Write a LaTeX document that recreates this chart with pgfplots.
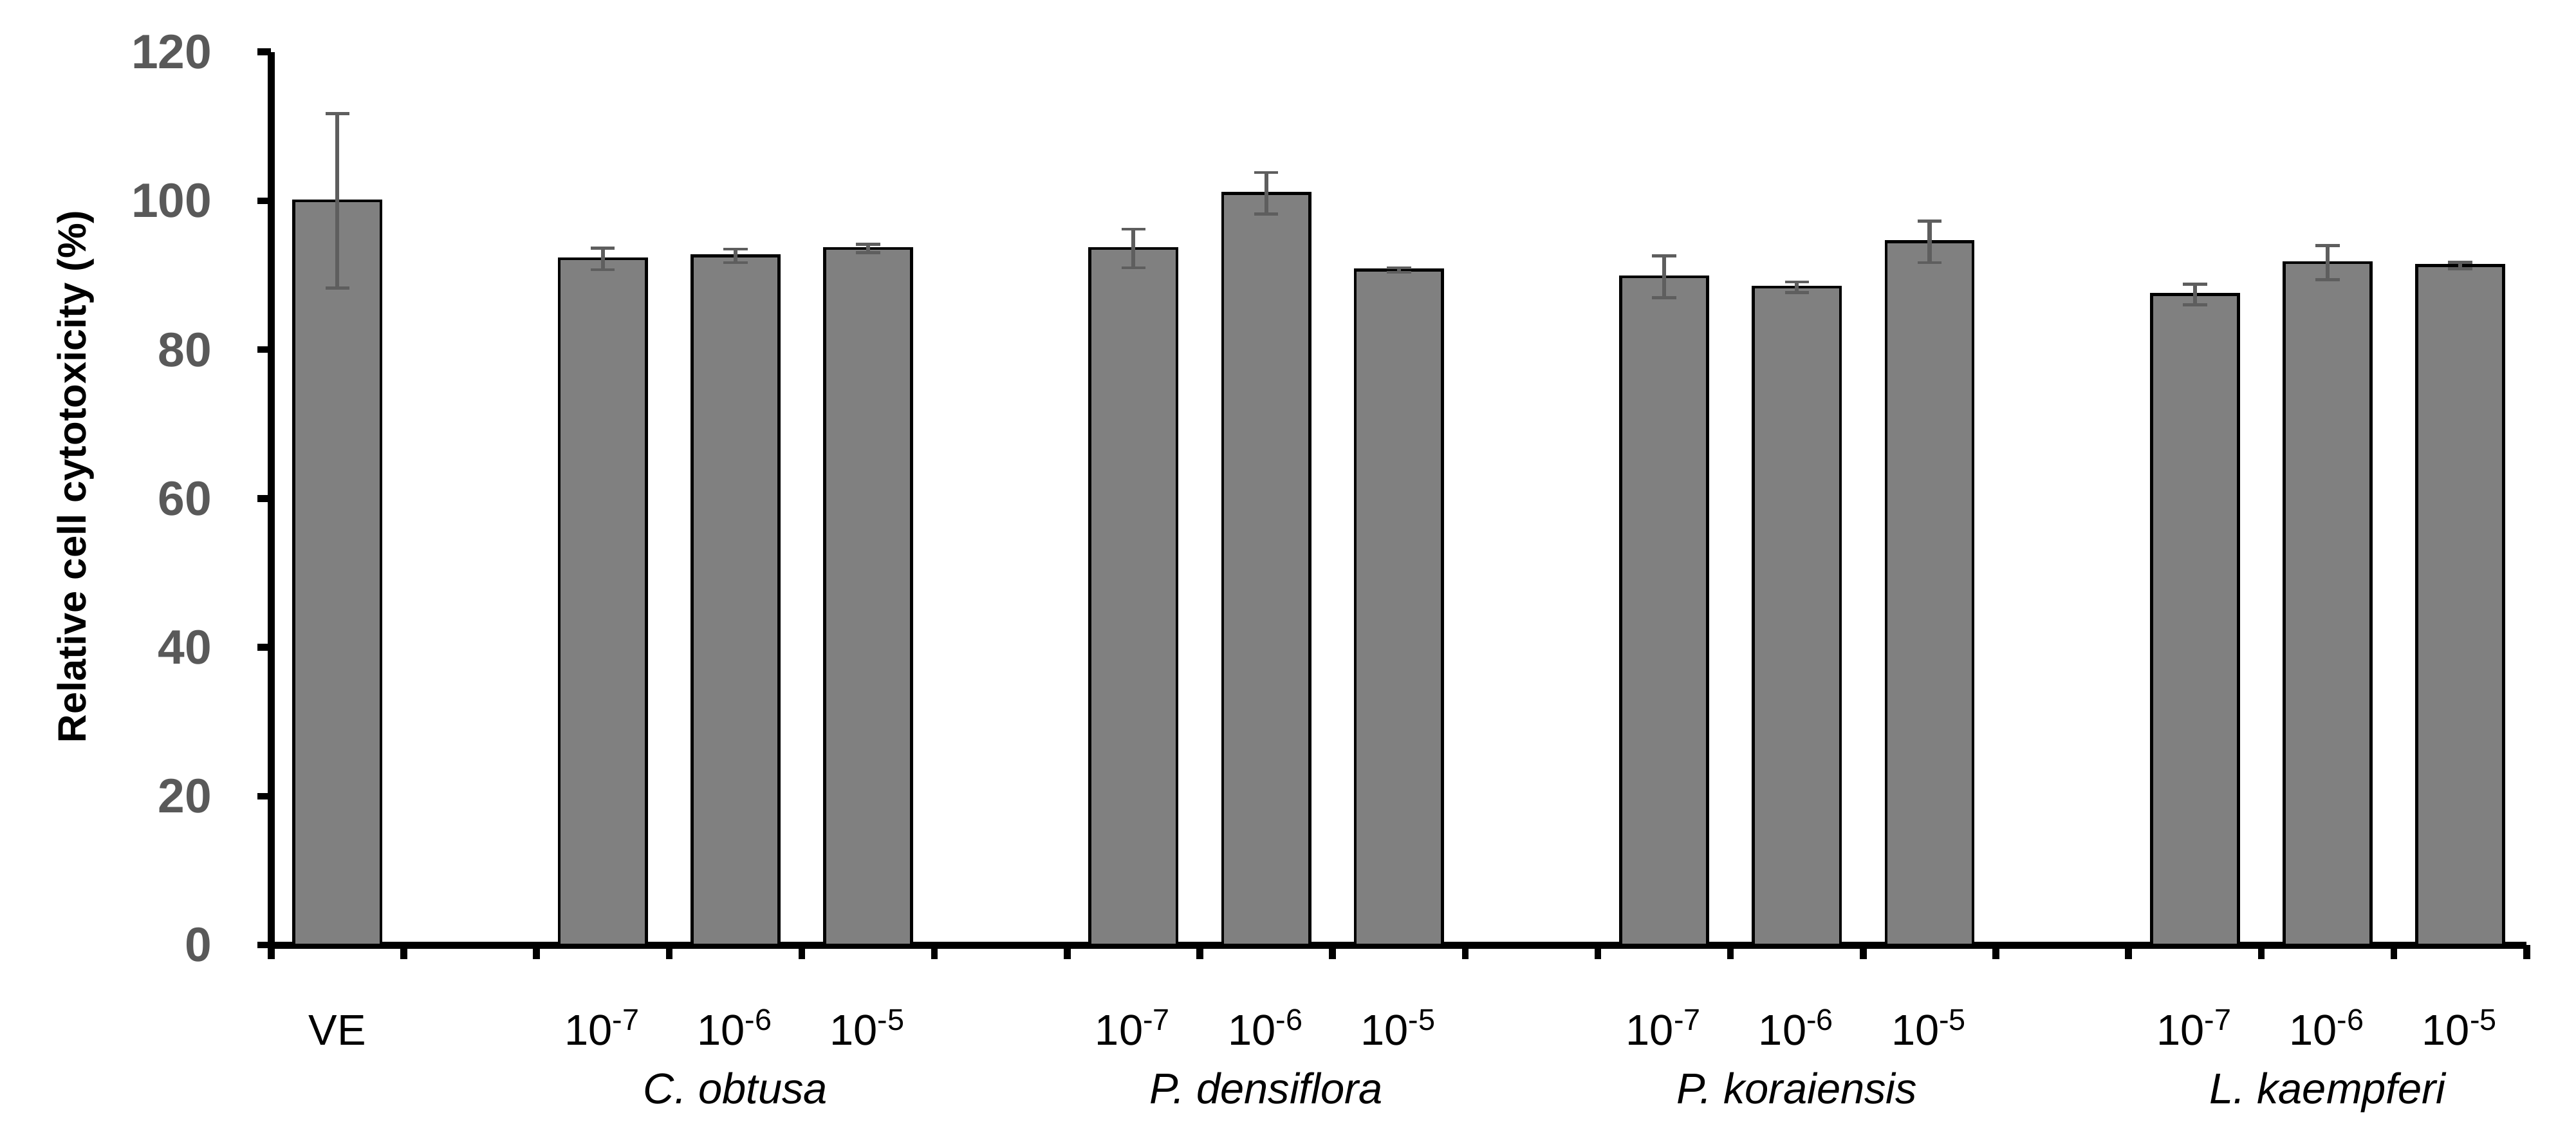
\documentclass[border=0pt]{standalone}
\usepackage{fontspec}
\setmainfont{Liberation Sans}
\usepackage{pgfplots}
\usepackage{pgfplotstable}
\pgfplotsset{compat=1.18}
\definecolor{barfill}{HTML}{808080}
\definecolor{errc}{HTML}{5E5E5E}
\definecolor{ticklab}{HTML}{595959}

\pgfplotstableread{
x y err
0 100.0 11.7
2 92.2 1.45
3 92.6 0.9
4 93.6 0.55
6 93.6 2.6
7 101.0 2.8
8 90.7 0.3
10 89.8 2.8
11 88.4 0.7
12 94.5 2.8
14 87.4 1.4
15 91.7 2.3
16 91.3 0.45
}\datatable

\begin{document}
\begin{tikzpicture}
\begin{axis}[
  scale only axis,
  width=598pt, height=236.7pt,
  xmin=-0.5, xmax=16.5, ymin=0, ymax=120,
  clip=false,
  axis x line*=bottom, axis y line*=left,
  axis line style={-, line width=1.9pt, black},
  xtick={-0.5,0.5,...,16.5}, xticklabels={},
  ytick={0,20,...,120},
  tick align=outside,
  major tick length=3.7pt,
  every tick/.style={black, line width=1.8pt},
  /pgf/number format/assume math mode=true,
  yticklabel style={font=\fontsize{12.8}{15}\selectfont\bfseries, text=ticklab, anchor=east, inner sep=0pt, xshift=-11.8pt},
  extra x ticks={0,2,3,4,6,7,8,10,11,12,14,15,16},
  extra x tick labels={VE,10\textsuperscript{-7},10\textsuperscript{-6},10\textsuperscript{-5},10\textsuperscript{-7},10\textsuperscript{-6},10\textsuperscript{-5},10\textsuperscript{-7},10\textsuperscript{-6},10\textsuperscript{-5},10\textsuperscript{-7},10\textsuperscript{-6},10\textsuperscript{-5}},
  extra x tick style={major tick length=0pt, xticklabel style={font=\fontsize{11.4}{13}\selectfont, anchor=base, inner sep=0pt, yshift=-26.5pt}},
  ylabel={Relative cell cytotoxicity (\%)},
  ylabel style={at={(rel axis cs:-0.0867,0.5245)}, anchor=center, font=\fontsize{10.5}{12}\selectfont\bfseries},
]
\addplot[ybar, bar width=0.656, fill=barfill, draw=black, line width=0.8pt,
  error bars/.cd, y dir=both, y explicit,
  error bar style={errc, line width=1.05pt},
  error mark options={errc, rotate=90, mark size=3.2pt, line width=0.8pt}]
  table[x=x, y=y, y error=err]{\datatable};
\node[font=\fontsize{11.4}{13}\selectfont\itshape, anchor=base] at (axis cs:3,0) [yshift=-42pt] {C. obtusa};
\node[font=\fontsize{11.4}{13}\selectfont\itshape, anchor=base] at (axis cs:7,0) [yshift=-42pt] {P. densiflora};
\node[font=\fontsize{11.4}{13}\selectfont\itshape, anchor=base] at (axis cs:11,0) [yshift=-42pt] {P. koraiensis};
\node[font=\fontsize{11.4}{13}\selectfont\itshape, anchor=base] at (axis cs:15,0) [yshift=-42pt] {L. kaempferi};
\path (rel axis cs:-0.1202,-0.208) rectangle (rel axis cs:1.0219,1.0582);
\end{axis}
\end{tikzpicture}
\end{document}
